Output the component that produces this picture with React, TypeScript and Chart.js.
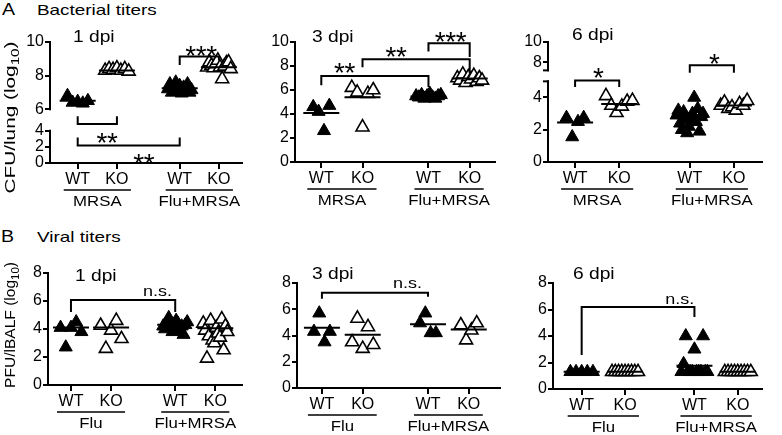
import React, { useEffect, useRef } from 'react';
import { Chart, registerables } from 'chart.js';

Chart.register(...registerables);

const FONT = "'Liberation Sans', Arial, Helvetica, sans-serif";
Chart.defaults.font.family = FONT;
Chart.defaults.color = '#000';

// ---------- shared categories ----------
const X_POSITIONS = [1, 2, 3.6, 4.6];
const X_TICK_LABELS = ['WT', 'KO', 'WT', 'KO'];
const GROUPS_A = ['MRSA', 'Flu+MRSA'];
const GROUPS_B = ['Flu', 'Flu+MRSA'];

// ---------- A: bacterial titers (log10 CFU/lung) ----------
const A1_MRSA_WT = [6.8, 6.4, 6.45, 6.35, 6.5];
const A1_MRSA_KO = [8.3, 8.4, 8.35, 8.45, 8.3, 8.4, 8.25];
const A1_FLU_MRSA_WT = [7.2, 7.5, 7.0, 7.3, 7.6, 7.1, 7.4, 6.95, 7.3, 7.2, 7.5, 7.0, 7.15];
const A1_FLU_MRSA_KO = [8.5, 8.8, 8.6, 8.45, 8.7, 8.9, 8.5, 7.8, 8.55, 8.75, 8.8, 8.4];
const A1_MEANS = [6.5, 8.3, 7.25, 8.5];

const A2_MRSA_WT = [4.6, 4.2, 2.6, 4.7];
const A2_MRSA_KO = [6.2, 5.8, 2.9, 5.7, 6.0];
const A2_FLU_MRSA_WT = [5.5, 5.4, 5.6, 5.3, 5.5, 5.7, 5.4, 5.3, 5.5, 5.6];
const A2_FLU_MRSA_KO = [7.0, 6.8, 7.3, 6.6, 7.1, 6.9, 7.2, 6.7, 7.0, 6.8];
const A2_MEANS = [4.08, 5.4, 5.45, 6.95];

const A3_MRSA_WT = [2.75, 1.55, 2.5, 2.75];
const A3_MRSA_KO = [4.1, 3.5, 3.05, 3.45, 3.75, 3.8];
const A3_FLU_MRSA_WT = [2.9, 3.2, 2.4, 2.0, 3.1, 2.7, 1.8, 2.2, 2.6, 3.0, 4.0, 2.5, 3.3, 1.9, 2.8, 3.0];
const A3_FLU_MRSA_KO = [3.5, 3.7, 3.3, 3.4, 3.2, 3.6, 3.5, 3.8];
const A3_MEANS = [2.45, 3.6, 2.78, 3.5];

// ---------- B: viral titers (log10 PFU/lBALF) ----------
const B1_FLU_WT = [4.1, 2.7, 4.1, 4.5, 3.8];
const B1_FLU_KO = [4.25, 2.6, 3.9, 4.6, 3.3];
const B1_FLU_MRSA_WT = [4.2, 4.0, 4.5, 4.8, 4.3, 3.8, 4.1, 4.6, 4.4, 3.9, 4.2, 3.6, 4.3, 4.5];
const B1_FLU_MRSA_KO = [4.4, 3.9, 1.9, 3.5, 4.6, 3.2, 3.0, 4.1, 3.7, 3.4, 4.7, 2.5, 4.2, 3.8];
const B1_MEANS = [4.1, 4.1, 4.3, 4.05];

const B2_FLU_WT = [4.3, 5.7, 3.5, 4.3];
const B2_FLU_KO = [3.5, 5.3, 3.0, 4.65, 3.3];
const B2_FLU_MRSA_WT = [4.95, 5.7, 4.2, 4.2];
const B2_FLU_MRSA_KO = [4.8, 3.65, 4.4, 4.95];
const B2_MEANS = [4.6, 4.05, 4.85, 4.45];

const B3_FLU_WT = [1.3, 1.3, 1.3, 1.3, 1.3];
const B3_FLU_KO = [1.3, 1.3, 1.3, 1.3, 1.3, 1.3, 1.3, 1.3, 1.3];
const B3_FLU_MRSA_WT = [1.3, 1.9, 4.0, 1.3, 1.3, 1.3, 3.0, 1.3, 1.3, 1.3, 4.0, 1.3, 1.3];
const B3_FLU_MRSA_KO = [1.3, 1.3, 1.3, 1.3, 1.3, 1.3, 1.3, 1.3, 1.3];
const B3_MEANS = [1.3, 1.3, 1.75, 1.3];

// ---------- y tick labels ----------
const TICKS_0_10 = [0, 2, 4, 6, 8, 10];
const TICKS_0_8 = [0, 2, 4, 6, 8];
const TICKS_A1_UPPER = [6, 8, 10];
const TICKS_A1_LOWER = [0, 2, 4];
const TICKS_A3_UPPER = [8, 10];
const TICKS_A3_LOWER = [0, 2, 4];

// ---------- significance brackets (group indices, values in axis units) ----------
type Br = { scale: string; g1: number; g2: number; bar: number; leg1: number; leg2: number; text: string; tx: number; ty: number };
const A1_BRACKETS: Br[] = [
  { scale: 'y2', g1: 2, g2: 3, bar: 9.14, leg1: 8.63, leg2: 8.9, text: '***', tx: 4.15, ty: 9.6 },
  { scale: 'y', g1: 0, g2: 1, bar: 4.85, leg1: 5.8, leg2: 5.8, text: '**', tx: 1.75, ty: 3.4 },
  { scale: 'y', g1: 0, g2: 2, bar: 2.18, leg1: 3.15, leg2: 3.15, text: '**', tx: 2.69, ty: 0.85 },
];
const A2_BRACKETS: Br[] = [
  { scale: 'y', g1: 0, g2: 2, bar: 7.17, leg1: 6.4, leg2: 6.25, text: '**', tx: 1.57, ty: 8.0 },
  { scale: 'y', g1: 1, g2: 3, bar: 8.56, leg1: 7.9, leg2: 7.4, text: '**', tx: 2.82, ty: 9.33 },
  { scale: 'y', g1: 2, g2: 3, bar: 9.89, leg1: 9.2, leg2: 8.75, text: '***', tx: 4.14, ty: 10.6 },
];
const A3_BRACKETS: Br[] = [
  { scale: 'y', g1: 0, g2: 1, bar: 5.06, leg1: 4.65, leg2: 4.65, text: '*', tx: 1.53, ty: 5.65 },
  { scale: 'y', g1: 2, g2: 3, bar: 6.0, leg1: 5.53, leg2: 5.53, text: '*', tx: 4.16, ty: 6.53 },
];
const B1_BRACKETS: Br[] = [
  { scale: 'y', g1: 0, g2: 2, bar: 6.07, leg1: 5.21, leg2: 5.21, text: 'n.s.', tx: 3.16, ty: 6.64 },
];
const B2_BRACKETS: Br[] = [
  { scale: 'y', g1: 0, g2: 2, bar: 7.25, leg1: 6.8, leg2: 6.95, text: 'n.s.', tx: 3.1, ty: 7.94 },
];
const B3_BRACKETS: Br[] = [
  { scale: 'y', g1: 0, g2: 2, bar: 6.19, leg1: 2.57, leg2: 5.43, text: 'n.s.', tx: 3.26, ty: 6.72 },
];

// ---------- layout ----------
type Seg = { scale: string; from: number; to: number; cap?: number };
interface Panel {
  id: string;
  canvas: { left: number; top: number; w: number; h: number };
  plot: { left: number; top: number; bottom: number; right: number };
  xRange: [number, number];
  groups: number[][];
  means: number[];
  groupNames: string[];
  dataScale: string;
  lower: { min: number; max: number; ticks: number[] };
  upper?: { min: number; max: number; ticks: number[] };
  split?: number;
  segments?: Seg[];
  brackets: Br[];
  title: { text: string; x: number; y: number };
  yTitle?: { main: string; sub: string; end: string; cx: number; cy: number; len: number };
}

const PANELS: Panel[] = [
  {
    id: 'a1', canvas: { left: 0, top: 22, w: 262, h: 193 }, plot: { left: 50, top: 38, bottom: 163, right: 258 },
    xRange: [0.294, 5.188], groups: [A1_MRSA_WT, A1_MRSA_KO, A1_FLU_MRSA_WT, A1_FLU_MRSA_KO], means: A1_MEANS,
    groupNames: GROUPS_A, dataScale: 'y2',
    lower: { min: 0, max: 5.282, ticks: TICKS_A1_LOWER }, upper: { min: 5.331, max: 10, ticks: TICKS_A1_UPPER }, split: 119,
    segments: [{ scale: 'y2', from: 6, to: 10 }, { scale: 'y', from: 0, to: 4 }],
    brackets: A1_BRACKETS, title: { text: '1 dpi', x: 73, y: 42 },
    yTitle: { main: 'CFU/lung (log', sub: '10', end: ')', cx: 10, cy: 117.5, len: 152 },
  },
  {
    id: 'a2', canvas: { left: 262, top: 22, w: 253, h: 193 }, plot: { left: 295, top: 42, bottom: 162, right: 508 },
    xRange: [0.362, 5.214], groups: [A2_MRSA_WT, A2_MRSA_KO, A2_FLU_MRSA_WT, A2_FLU_MRSA_KO], means: A2_MEANS,
    groupNames: GROUPS_A, dataScale: 'y', lower: { min: 0, max: 10, ticks: TICKS_0_10 },
    brackets: A2_BRACKETS, title: { text: '3 dpi', x: 312, y: 42 },
  },
  {
    id: 'a3', canvas: { left: 515, top: 22, w: 267, h: 193 }, plot: { left: 548, top: 35, bottom: 162, right: 777 },
    xRange: [0.386, 5.237], groups: [A3_MRSA_WT, A3_MRSA_KO, A3_FLU_MRSA_WT, A3_FLU_MRSA_KO], means: A3_MEANS,
    groupNames: GROUPS_A, dataScale: 'y',
    lower: { min: 0, max: 5.331, ticks: TICKS_A3_LOWER }, upper: { min: 6.667, max: 10, ticks: TICKS_A3_UPPER }, split: 71,
    segments: [{ scale: 'y2', from: 7.22, to: 10, cap: 7.22 }, { scale: 'y', from: 0, to: 5, cap: 5 }],
    brackets: A3_BRACKETS, title: { text: '6 dpi', x: 572, y: 40 },
  },
  {
    id: 'b1', canvas: { left: 0, top: 250, w: 262, h: 185 }, plot: { left: 48, top: 273, bottom: 385, right: 259 },
    xRange: [0.427, 5.266], groups: [B1_FLU_WT, B1_FLU_KO, B1_FLU_MRSA_WT, B1_FLU_MRSA_KO], means: B1_MEANS,
    groupNames: GROUPS_B, dataScale: 'y', lower: { min: 0, max: 8, ticks: TICKS_0_8 },
    brackets: B1_BRACKETS, title: { text: '1 dpi', x: 75, y: 281 },
    yTitle: { main: 'PFU/lBALF (log', sub: '10', end: ')', cx: 10, cy: 325, len: 126 },
  },
  {
    id: 'b2', canvas: { left: 262, top: 250, w: 258, h: 185 }, plot: { left: 297, top: 283, bottom: 388, right: 517 },
    xRange: [0.389, 5.366], groups: [B2_FLU_WT, B2_FLU_KO, B2_FLU_MRSA_WT, B2_FLU_MRSA_KO], means: B2_MEANS,
    groupNames: GROUPS_B, dataScale: 'y', lower: { min: 0, max: 8, ticks: TICKS_0_8 },
    brackets: B2_BRACKETS, title: { text: '3 dpi', x: 312, y: 279 },
  },
  {
    id: 'b3', canvas: { left: 520, top: 250, w: 262, h: 185 }, plot: { left: 553, top: 283, bottom: 389, right: 779 },
    xRange: [0.339, 5.158], groups: [B3_FLU_WT, B3_FLU_KO, B3_FLU_MRSA_WT, B3_FLU_MRSA_KO], means: B3_MEANS,
    groupNames: GROUPS_B, dataScale: 'y', lower: { min: 0, max: 8, ticks: TICKS_0_8 },
    brackets: B3_BRACKETS, title: { text: '6 dpi', x: 573, y: 279 },
  },
];

function drawText(ctx: CanvasRenderingContext2D, text: string, x: number, y: number, size: number,
  align: CanvasTextAlign = 'left', sx = 1.2, weight = '') {
  ctx.save();
  ctx.font = `${weight}${size}px ${FONT}`;
  ctx.textAlign = align;
  ctx.textBaseline = 'alphabetic';
  ctx.translate(x, y);
  ctx.scale(sx, 1);
  ctx.fillText(text, 0, 0);
  ctx.restore();
}

function decorPlugin(p: Panel) {
  return {
    id: 'decor_' + p.id,
    afterDraw(chart: any) {
      const ctx: CanvasRenderingContext2D = chart.ctx;
      const area = chart.chartArea;
      const xs = chart.scales.x;
      const ox = p.canvas.left, oy = p.canvas.top;
      ctx.save();
      ctx.strokeStyle = '#000';
      ctx.fillStyle = '#000';

      // broken y axis
      if (p.segments) {
        ctx.lineWidth = 2;
        for (const s of p.segments) {
          const sc = chart.scales[s.scale];
          const y1 = sc.getPixelForValue(s.from), y2 = sc.getPixelForValue(s.to);
          ctx.lineCap = 'square';
          ctx.beginPath(); ctx.moveTo(area.left, y1); ctx.lineTo(area.left, y2); ctx.stroke();
          if (s.cap !== undefined) {
            const yc = sc.getPixelForValue(s.cap);
            ctx.lineCap = 'butt';
            ctx.beginPath(); ctx.moveTo(area.left - 5, yc); ctx.lineTo(area.left + 1, yc); ctx.stroke();
          }
        }
      }

      // group underlines and names
      ctx.lineCap = 'butt';
      for (let k = 0; k < 2; k++) {
        const xa = xs.getPixelForValue(X_POSITIONS[2 * k]) - 14;
        const xb = xs.getPixelForValue(X_POSITIONS[2 * k + 1]) + 14;
        const gy = area.bottom + 27;
        ctx.lineWidth = 1.5;
        ctx.beginPath(); ctx.moveTo(xa, gy); ctx.lineTo(xb, gy); ctx.stroke();
        drawText(ctx, p.groupNames[k], (xa + xb) / 2, area.bottom + 42.5, 14, 'center', 1.2);
      }

      // brackets
      for (const b of p.brackets) {
        const sc = chart.scales[b.scale];
        const x1 = xs.getPixelForValue(X_POSITIONS[b.g1]);
        const x2 = xs.getPixelForValue(X_POSITIONS[b.g2]);
        ctx.lineWidth = 2;
        ctx.lineJoin = 'miter';
        ctx.beginPath();
        ctx.moveTo(x1, sc.getPixelForValue(b.leg1));
        ctx.lineTo(x1, sc.getPixelForValue(b.bar));
        ctx.lineTo(x2, sc.getPixelForValue(b.bar));
        ctx.lineTo(x2, sc.getPixelForValue(b.leg2));
        ctx.stroke();
        const tx = xs.getPixelForValue(b.tx), ty = sc.getPixelForValue(b.ty);
        if (/^\*+$/.test(b.text)) {
          const n = b.text.length, size = 28, sp = 10.5;
          for (let i = 0; i < n; i++) {
            drawText(ctx, '*', tx + (i - (n - 1) / 2) * sp, ty + 0.585 * size, size, 'center', 1);
          }
        } else {
          drawText(ctx, b.text, tx, ty + 0.26 * 15, 15, 'center', 1.2);
        }
      }

      // panel title
      drawText(ctx, p.title.text, p.title.x - ox, p.title.y - oy, 16, 'left', 1.2);

      // y axis title
      if (p.yTitle) {
        const t = p.yTitle;
        ctx.save();
        ctx.translate(t.cx - ox, t.cy - oy);
        ctx.rotate(-Math.PI / 2);
        const mainF = `15px ${FONT}`, subF = `11px ${FONT}`;
        ctx.font = mainF;
        const w1 = ctx.measureText(t.main).width;
        const w3 = ctx.measureText(t.end).width;
        ctx.font = subF;
        const w2 = ctx.measureText(t.sub).width;
        const total = w1 + w2 + w3;
        ctx.scale(t.len / total, 1);
        ctx.textBaseline = 'alphabetic';
        ctx.textAlign = 'left';
        const start = -total / 2;
        ctx.font = mainF; ctx.fillText(t.main, start, 5.4);
        ctx.font = subF; ctx.fillText(t.sub, start + w1, 8.6);
        ctx.font = mainF; ctx.fillText(t.end, start + w1 + w2, 5.4);
        ctx.restore();
      }
      ctx.restore();
    },
  };
}

function buildConfig(p: Panel): any {
  const datasets: any[] = [];
  p.groups.forEach((vals, g) => {
    const n = vals.length;
    const step = n > 1 ? Math.min(0.13, 0.6 / (n - 1)) : 0;
    const filled = g % 2 === 0;
    datasets.push({
      type: 'scatter',
      data: vals.map((v, i) => ({ x: X_POSITIONS[g] + (i - (n - 1) / 2) * step, y: v })),
      xAxisID: 'x', yAxisID: p.dataScale,
      pointStyle: 'triangle', pointRadius: 7.5, pointHoverRadius: 7.5,
      backgroundColor: filled ? '#000' : '#fff', borderColor: '#000', borderWidth: filled ? 1 : 1.6,
      clip: false, order: 2,
    });
  });
  datasets.push({
    type: 'scatter',
    data: p.means.map((m, g) => ({ x: X_POSITIONS[g], y: m })),
    xAxisID: 'x', yAxisID: p.dataScale,
    pointStyle: 'line', pointRadius: 18, pointHoverRadius: 18,
    borderColor: '#000', backgroundColor: '#000', borderWidth: 2, clip: false, order: 1,
  });

  const yW = p.plot.left - p.canvas.left;
  const xH = p.canvas.top + p.canvas.h - p.plot.bottom;
  const broken = !!p.upper;
  const tickFont = { family: FONT, size: 16 };
  const grid = { display: true, drawOnChartArea: false, drawTicks: true, tickLength: 5, color: '#000', lineWidth: 2 };

  const yScale = (r: { min: number; max: number; ticks: number[] }, extra: any) => ({
    type: 'linear', position: 'left', min: r.min, max: r.max,
    afterBuildTicks: (s: any) => { s.ticks = r.ticks.map((v) => ({ value: v })); },
    afterFit: (s: any) => { s.width = yW; },
    grid,
    border: { display: !broken, color: '#000', width: 2 },
    ticks: { font: tickFont, color: '#000', padding: 1, autoSkip: false },
    ...extra,
  });

  const scales: any = {
    x: {
      type: 'linear', position: 'bottom', min: p.xRange[0], max: p.xRange[1],
      afterBuildTicks: (s: any) => { s.ticks = X_POSITIONS.map((v) => ({ value: v })); },
      afterFit: (s: any) => { s.height = xH; },
      grid: { ...grid, tickLength: 6 },
      border: { display: true, color: '#000', width: 2 },
      ticks: {
        font: tickFont, color: '#000', padding: 1, autoSkip: false, maxRotation: 0, minRotation: 0,
        callback: (_v: any, i: number) => X_TICK_LABELS[i],
      },
    },
  };
  if (broken && p.upper && p.split !== undefined) {
    scales.y = yScale(p.lower, { stack: 'left', stackWeight: p.plot.bottom - p.split, weight: 0 });
    scales.y2 = yScale(p.upper, { stack: 'left', stackWeight: p.split - p.plot.top, weight: 1 });
  } else {
    scales.y = yScale(p.lower, {});
  }

  return {
    type: 'scatter',
    data: { datasets },
    options: {
      responsive: false, maintainAspectRatio: false, animation: false, devicePixelRatio: 1,
      events: [],
      layout: { padding: { left: 0, top: p.plot.top - p.canvas.top, right: p.canvas.left + p.canvas.w - p.plot.right, bottom: 0 } },
      plugins: { legend: { display: false }, tooltip: { enabled: false }, title: { display: false } },
      scales,
    },
    plugins: [decorPlugin(p)],
  };
}

function PanelChart({ p }: { p: Panel }) {
  const ref = useRef<HTMLCanvasElement>(null);
  useEffect(() => {
    const chart = new Chart(ref.current as HTMLCanvasElement, buildConfig(p));
    return () => chart.destroy();
  }, [p]);
  return (
    <canvas
      ref={ref}
      width={p.canvas.w}
      height={p.canvas.h}
      style={{ position: 'absolute', left: p.canvas.left, top: p.canvas.top, width: p.canvas.w, height: p.canvas.h }}
    />
  );
}

const headerStyle = (left: number, top: number, size: number, sx: number): React.CSSProperties => ({
  position: 'absolute', left, top, fontFamily: FONT, fontSize: size, lineHeight: `${size}px`,
  transform: `scaleX(${sx})`, transformOrigin: 'left top', whiteSpace: 'nowrap', color: '#000',
});

export default function App() {
  return (
    <div style={{ position: 'absolute', left: 0, top: 0, width: 782, height: 435, background: '#fff', overflow: 'hidden' }}>
      <div style={headerStyle(2, 0.6, 17, 1.15)}>A</div>
      <div style={headerStyle(37, 2.3, 15, 1.26)}>Bacterial titers</div>
      <div style={headerStyle(1, 227.6, 17, 1.15)}>B</div>
      <div style={headerStyle(37, 229.3, 15, 1.26)}>Viral titers</div>
      {PANELS.map((p) => (
        <PanelChart key={p.id} p={p} />
      ))}
    </div>
  );
}
